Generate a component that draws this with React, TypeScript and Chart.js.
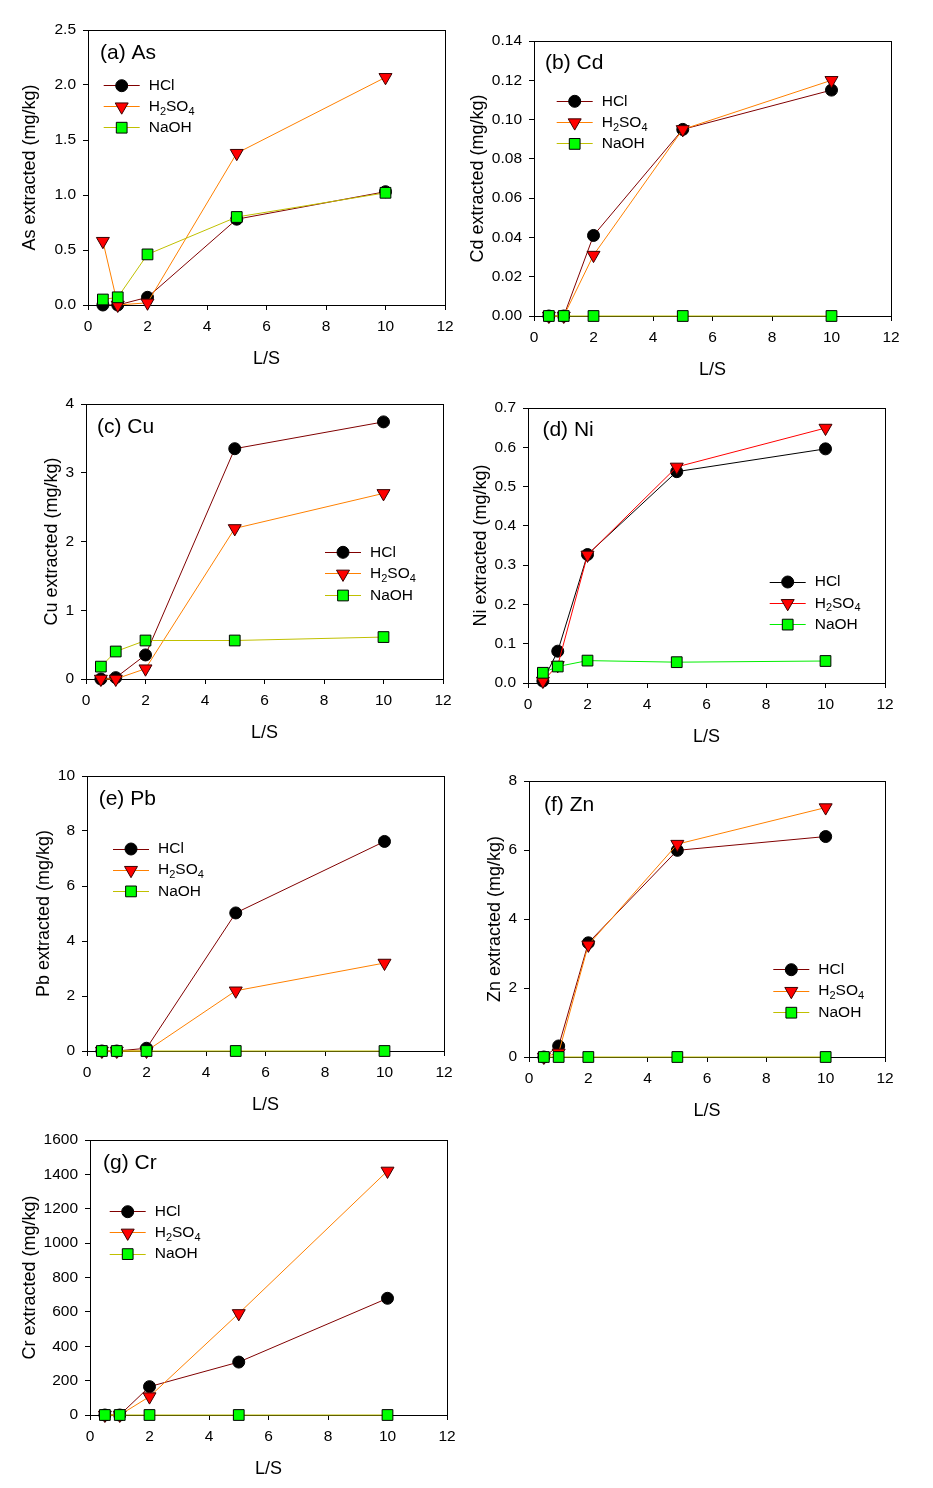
import React, { useEffect, useRef } from "react";
import { Chart, registerables } from "chart.js";

Chart.register(...registerables);

// ---------- data ----------
const LS = [0.5, 1, 2, 5, 10];
const X_TICKS = [0, 2, 4, 6, 8, 10, 12];

const AS_HCL = [0, 0, 0.07, 0.78, 1.03];
const AS_H2SO4 = [0.58, 0, 0.02, 1.38, 2.07];
const AS_NAOH = [0.05, 0.07, 0.46, 0.8, 1.02];
const AS_Y_TICKS = [0, 0.5, 1.0, 1.5, 2.0, 2.5];

const CD_HCL = [0, 0, 0.041, 0.095, 0.115];
const CD_H2SO4 = [0, 0, 0.031, 0.095, 0.12];
const CD_NAOH = [0, 0, 0, 0, 0];
const CD_Y_TICKS = [0, 0.02, 0.04, 0.06, 0.08, 0.1, 0.12, 0.14];

const CU_HCL = [0, 0.02, 0.35, 3.35, 3.74];
const CU_H2SO4 = [0, 0, 0.15, 2.19, 2.7];
const CU_NAOH = [0.18, 0.4, 0.56, 0.56, 0.61];
const CU_Y_TICKS = [0, 1, 2, 3, 4];

const NI_HCL = [0.005, 0.081, 0.327, 0.538, 0.596];
const NI_H2SO4 = [0.005, 0.045, 0.326, 0.55, 0.649];
const NI_NAOH = [0.026, 0.042, 0.057, 0.053, 0.056];
const NI_Y_TICKS = [0, 0.1, 0.2, 0.3, 0.4, 0.5, 0.6, 0.7];

const PB_HCL = [0, 0, 0.1, 5.02, 7.62];
const PB_H2SO4 = [0, 0, 0, 2.19, 3.2];
const PB_NAOH = [0, 0, 0, 0, 0];
const PB_Y_TICKS = [0, 2, 4, 6, 8, 10];

const ZN_HCL = [0, 0.32, 3.31, 5.99, 6.39];
const ZN_H2SO4 = [0, 0.12, 3.25, 6.17, 7.23];
const ZN_NAOH = [0, 0, 0, 0, 0];
const ZN_Y_TICKS = [0, 2, 4, 6, 8];

const CR_HCL = [0, 0, 165, 308, 679];
const CR_H2SO4 = [0, 0, 107, 591, 1420];
const CR_NAOH = [0, 0, 0, 0, 0];
const CR_Y_TICKS = [0, 200, 400, 600, 800, 1000, 1200, 1400, 1600];

const SERIES = ["HCl", "H2SO4", "NaOH"];

// ---------- styles / layout ----------
const FONT = '"Liberation Sans", Arial, Helvetica, sans-serif';
const STD_COLORS = ["#800000", "#ff8000", "#c0c000"];
const NI_COLORS = ["#000000", "#ff0000", "#00ee00"];

const PAD_L = 90;
const PAD_T = 20;
const PAD_R = 25;
const PAD_B = 75;

type PanelCfg = {
  title: string;
  yTitle: string;
  series: number[][];
  yTicks: number[];
  dec: number;
  colors: string[];
  plot: [number, number, number, number]; // left, top, width, height
  yTitleDist: number;
  titlePos: [number, number];
  legend: [number, number, number];
};

const PANELS: PanelCfg[] = [
  {
    title: "(a) As", yTitle: "As extracted (mg/kg)", series: [AS_HCL, AS_H2SO4, AS_NAOH],
    yTicks: AS_Y_TICKS, dec: 1, colors: STD_COLORS, plot: [88, 30, 357, 275],
    yTitleDist: 57.6, titlePos: [12, 23], legend: [15.7, 55.7, 21],
  },
  {
    title: "(b) Cd", yTitle: "Cd extracted (mg/kg)", series: [CD_HCL, CD_H2SO4, CD_NAOH],
    yTicks: CD_Y_TICKS, dec: 2, colors: STD_COLORS, plot: [534, 41, 357, 275],
    yTitleDist: 55.7, titlePos: [11, 22.6], legend: [22.7, 60.3, 21.3],
  },
  {
    title: "(c) Cu", yTitle: "Cu extracted (mg/kg)", series: [CU_HCL, CU_H2SO4, CU_NAOH],
    yTicks: CU_Y_TICKS, dec: 0, colors: STD_COLORS, plot: [86, 404, 357, 275],
    yTitleDist: 34, titlePos: [11, 23], legend: [239, 148.3, 21.6],
  },
  {
    title: "(d) Ni", yTitle: "Ni extracted (mg/kg)", series: [NI_HCL, NI_H2SO4, NI_NAOH],
    yTicks: NI_Y_TICKS, dec: 1, colors: NI_COLORS, plot: [528, 408, 357, 275],
    yTitleDist: 46.6, titlePos: [14.4, 22.3], legend: [241.7, 174, 21.3],
  },
  {
    title: "(e) Pb", yTitle: "Pb extracted (mg/kg)", series: [PB_HCL, PB_H2SO4, PB_NAOH],
    yTicks: PB_Y_TICKS, dec: 0, colors: STD_COLORS, plot: [87, 776, 357, 275],
    yTitleDist: 42.6, titlePos: [11.7, 23], legend: [26, 73, 21.2],
  },
  {
    title: "(f) Zn", yTitle: "Zn extracted (mg/kg)", series: [ZN_HCL, ZN_H2SO4, ZN_NAOH],
    yTicks: ZN_Y_TICKS, dec: 0, colors: STD_COLORS, plot: [529, 781, 356, 276],
    yTitleDist: 34, titlePos: [15, 24], legend: [244.3, 188.7, 21.5],
  },
  {
    title: "(g) Cr", yTitle: "Cr extracted (mg/kg)", series: [CR_HCL, CR_H2SO4, CR_NAOH],
    yTicks: CR_Y_TICKS, dec: 0, colors: STD_COLORS, plot: [90, 1140, 357, 275],
    yTitleDist: 60.3, titlePos: [13, 23.3], legend: [19.7, 71.7, 21.2],
  },
];

const MARKERS = [
  { style: "circle", radius: 6, fill: "#000000", stroke: "#000000", rotation: 0 },
  { style: "triangle", radius: 7.5, fill: "#ff0000", stroke: "#3a0000", rotation: 180 },
  { style: "rect", radius: 7.6, fill: "#00ff00", stroke: "#000000", rotation: 0 },
];

const align = (v: number) => Math.round(v - 0.5) + 0.5;

function drawMarker(ctx: CanvasRenderingContext2D, idx: number, x: number, y: number) {
  const m = MARKERS[idx];
  ctx.save();
  ctx.fillStyle = m.fill;
  ctx.strokeStyle = m.stroke;
  ctx.lineWidth = 1;
  ctx.beginPath();
  if (m.style === "circle") {
    ctx.arc(x, y, m.radius, 0, Math.PI * 2);
  } else if (m.style === "triangle") {
    const r = m.radius;
    const s = Math.sin(Math.PI / 3) * r;
    ctx.moveTo(x, y + r);
    ctx.lineTo(x - s, y - r / 2);
    ctx.lineTo(x + s, y - r / 2);
    ctx.closePath();
  } else {
    const h = m.radius * Math.SQRT1_2;
    ctx.rect(x - h, y - h, 2 * h, 2 * h);
  }
  ctx.fill();
  ctx.stroke();
  ctx.restore();
}

function drawLabel(ctx: CanvasRenderingContext2D, text: string, x: number, y: number) {
  const big = `15.5px ${FONT}`;
  const small = `11px ${FONT}`;
  ctx.fillStyle = "#000";
  ctx.textBaseline = "middle";
  ctx.textAlign = "left";
  let cx = x;
  const parts = text.match(/[A-Za-z]+|\d+/g) || [text];
  for (const p of parts) {
    const isSub = /^\d+$/.test(p);
    ctx.font = isSub ? small : big;
    ctx.fillText(p, cx, isSub ? y + 5 : y);
    cx += ctx.measureText(p).width;
  }
}

function makePlugin(cfg: PanelCfg) {
  return {
    id: "panelDecor",
    beforeDatasetsDraw(chart: any) {
      const { ctx, chartArea: a } = chart;
      ctx.save();
      ctx.strokeStyle = "#000";
      ctx.lineWidth = 1;
      const l = align(a.left), t = align(a.top), r = align(a.right), b = align(a.bottom);
      ctx.strokeRect(l, t, r - l, b - t);
      ctx.restore();
    },
    afterDraw(chart: any) {
      const { ctx, chartArea: a } = chart;
      ctx.save();
      ctx.font = `21px ${FONT}`;
      ctx.fillStyle = "#000";
      ctx.textBaseline = "middle";
      ctx.textAlign = "left";
      ctx.fillText(cfg.title, a.left + cfg.titlePos[0], a.top + cfg.titlePos[1]);
      const [lx, ly, gap] = cfg.legend;
      SERIES.forEach((name, i) => {
        const x0 = a.left + lx;
        const y = a.top + ly + i * gap;
        ctx.strokeStyle = cfg.colors[i];
        ctx.lineWidth = 1;
        ctx.beginPath();
        ctx.moveTo(x0, align(y));
        ctx.lineTo(x0 + 36, align(y));
        ctx.stroke();
        drawMarker(ctx, i, x0 + 18, y);
        drawLabel(ctx, name, x0 + 45, y);
      });
      ctx.restore();
    },
  };
}

function Panel({ cfg }: { cfg: PanelCfg }) {
  const ref = useRef<HTMLCanvasElement>(null);
  const [pl, pt, pw, ph] = cfg.plot;
  const cw = PAD_L + pw + PAD_R;
  const chh = PAD_T + ph + PAD_B;

  useEffect(() => {
    const canvas = ref.current!;
    const tickFont = { family: FONT, size: 15.5 };
    const titleFont = { family: FONT, size: 18 };
    const grid = {
      display: true,
      drawOnChartArea: false,
      drawTicks: true,
      tickLength: 5,
      color: "#000",
      lineWidth: 1,
    };
    const chart = new Chart(canvas, {
      type: "line",
      data: {
        datasets: SERIES.map((name, i) => ({
          label: name,
          data: LS.map((x, k) => ({ x, y: cfg.series[i][k] })),
          borderColor: cfg.colors[i],
          backgroundColor: MARKERS[i].fill,
          borderWidth: 1,
          pointStyle: MARKERS[i].style as any,
          pointRadius: MARKERS[i].radius,
          pointBackgroundColor: MARKERS[i].fill,
          pointBorderColor: MARKERS[i].stroke,
          pointBorderWidth: 1,
          pointRotation: MARKERS[i].rotation,
          tension: 0,
          fill: false,
          clip: false as any,
          order: 3 - i,
        })),
      },
      options: {
        responsive: false,
        maintainAspectRatio: false,
        animation: false,
        events: [],
        devicePixelRatio: 1,
        layout: { padding: { left: 0, top: PAD_T, right: PAD_R, bottom: 0 } },
        plugins: { legend: { display: false }, tooltip: { enabled: false }, title: { display: false } },
        scales: {
          x: {
            type: "linear",
            min: X_TICKS[0],
            max: X_TICKS[X_TICKS.length - 1],
            afterBuildTicks: (s: any) => {
              s.ticks = X_TICKS.map((v) => ({ value: v }));
            },
            afterFit: (s: any) => {
              s.height = PAD_B;
            },
            grid,
            border: { display: false },
            ticks: {
              font: tickFont,
              color: "#000",
              padding: 7,
              maxRotation: 0,
              autoSkip: false,
              callback: (v: any) => String(v),
            },
            title: {
              display: true,
              text: "L/S",
              font: titleFont,
              color: "#000",
              padding: { top: 0, bottom: 10.2 },
            },
          },
          y: {
            type: "linear",
            min: cfg.yTicks[0],
            max: cfg.yTicks[cfg.yTicks.length - 1],
            afterBuildTicks: (s: any) => {
              s.ticks = cfg.yTicks.map((v) => ({ value: v }));
            },
            afterFit: (s: any) => {
              s.width = PAD_L;
            },
            grid,
            border: { display: false },
            ticks: {
              font: tickFont,
              color: "#000",
              padding: 7,
              autoSkip: false,
              callback: (v: any) => Number(v).toFixed(cfg.dec),
            },
            title: {
              display: true,
              text: cfg.yTitle,
              font: titleFont,
              color: "#000",
              padding: { top: PAD_L - cfg.yTitleDist - 10.8, bottom: 0 },
            },
          },
        },
      } as any,
      plugins: [makePlugin(cfg)],
    });
    return () => chart.destroy();
  }, [cfg]);

  return (
    <canvas
      ref={ref}
      width={cw}
      height={chh}
      style={{
        position: "absolute",
        left: pl - PAD_L,
        top: pt - PAD_T,
        width: cw,
        height: chh,
        display: "block",
      }}
    />
  );
}

export default function App() {
  return (
    <div
      style={{
        position: "absolute",
        left: 0,
        top: 0,
        width: 933,
        height: 1488,
        background: "#fff",
        overflow: "hidden",
      }}
    >
      {PANELS.map((p) => (
        <Panel key={p.title} cfg={p} />
      ))}
    </div>
  );
}
